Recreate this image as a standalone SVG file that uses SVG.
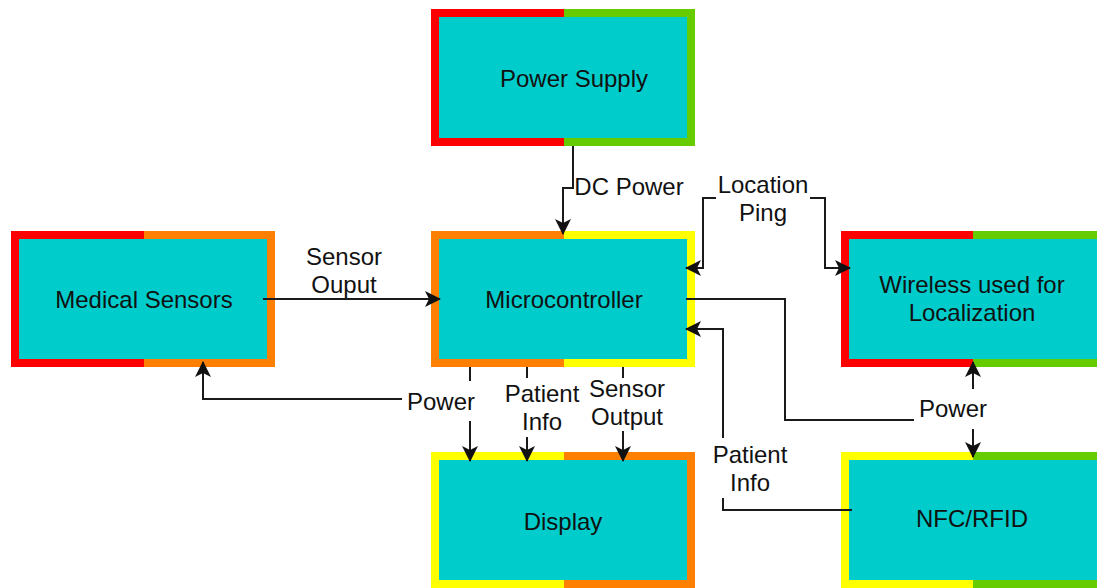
<svg xmlns="http://www.w3.org/2000/svg" width="1097" height="588" viewBox="0 0 1097 588">
<style>
.fill{fill:#00CCCC}
.t{font-family:"Liberation Sans",Arial,sans-serif;font-size:24px;fill:#111;text-anchor:middle}
.c{fill:none;stroke:#1a1a1a;stroke-width:2}
.bg{fill:#fff}
</style>
<defs>
<marker id="arr" viewBox="0 0 16 16" refX="15" refY="8" markerWidth="16" markerHeight="16" markerUnits="userSpaceOnUse" orient="auto-start-reverse">
<path d="M0,0 L16,8 L0,16 L4,8 z" fill="#111"/>
</marker>
</defs>
<rect width="1097" height="588" fill="#fff"/>
<g id="power-supply">
<rect x="431" y="9" width="133" height="137" fill="#FF0000"/>
<rect x="564" y="9" width="131" height="137" fill="#66CC00"/>
<rect class="fill" x="439" y="17" width="248" height="121"/>
<text class="t" x="574" y="87">Power Supply</text>
</g>
<g id="medical-sensors">
<rect x="11" y="231" width="133" height="136" fill="#FF0000"/>
<rect x="144" y="231" width="131" height="136" fill="#FF8000"/>
<rect class="fill" x="19" y="239" width="248" height="120"/>
<text class="t" x="144" y="308">Medical Sensors</text>
</g>
<g id="microcontroller">
<rect x="431" y="231" width="133" height="136" fill="#FF8000"/>
<rect x="564" y="231" width="131" height="136" fill="#FFFF00"/>
<rect class="fill" x="439" y="239" width="248" height="120"/>
<text class="t" x="564" y="308">Microcontroller</text>
</g>
<g id="wireless">
<rect x="841" y="231" width="132" height="136" fill="#FF0000"/>
<rect x="973" y="231" width="132" height="136" fill="#66CC00"/>
<rect class="fill" x="849" y="239" width="248" height="120"/>
<text class="t" x="972" y="293">Wireless used for</text>
<text class="t" x="972" y="321">Localization</text>
</g>
<g id="display">
<rect x="431" y="452" width="133" height="136" fill="#FFFF00"/>
<rect x="564" y="452" width="131" height="136" fill="#FF8000"/>
<rect class="fill" x="439" y="460" width="248" height="120"/>
<text class="t" x="563" y="530">Display</text>
</g>
<g id="nfc-rfid">
<rect x="841" y="452" width="132" height="136" fill="#FFFF00"/>
<rect x="973" y="452" width="132" height="136" fill="#66CC00"/>
<rect class="fill" x="849" y="460" width="248" height="120"/>
<text class="t" x="972" y="527">NFC/RFID</text>
</g>
<g id="connectors">
<path class="c" d="M573,146 V188 H563 V234" marker-end="url(#arr)"/>
<path class="c" d="M263,299 H440" marker-end="url(#arr)"/>
<path class="c" d="M470,367 V461" marker-end="url(#arr)"/>
<path class="c" d="M470,399 H203 V362" marker-end="url(#arr)"/>
<path class="c" d="M527,367 V461" marker-end="url(#arr)"/>
<path class="c" d="M623,367 V461" marker-end="url(#arr)"/>
<path class="c" d="M686,268 H703 V198 H825 V268 H850" marker-start="url(#arr)" marker-end="url(#arr)"/>
<path class="c" d="M686,299 H785 V420 H973 V457" marker-end="url(#arr)"/>
<path class="c" d="M973,420 V362" marker-end="url(#arr)"/>
<path class="c" d="M852,510 H723 V329 H686" marker-end="url(#arr)"/>
<g id="labels">
<text class="t" x="629" y="195">DC Power</text>
<text class="t" x="344" y="265">Sensor</text>
<text class="t" x="344" y="293">Ouput</text>
<rect class="bg" x="716" y="172" width="94" height="56"/>
<text class="t" x="763" y="193">Location</text>
<text class="t" x="763" y="221">Ping</text>
<rect class="bg" x="402" y="381" width="76" height="40"/>
<text class="t" x="441" y="410">Power</text>
<rect class="bg" x="502" y="378" width="80" height="59"/>
<text class="t" x="542" y="402">Patient</text>
<text class="t" x="542" y="430">Info</text>
<rect class="bg" x="587" y="378" width="80" height="53"/>
<text class="t" x="627" y="397">Sensor</text>
<text class="t" x="627" y="425">Output</text>
<rect class="bg" x="914" y="389" width="78" height="40"/>
<text class="t" x="953" y="417">Power</text>
<rect class="bg" x="710" y="438" width="80" height="60"/>
<text class="t" x="750" y="463">Patient</text>
<text class="t" x="750" y="491">Info</text>
</g>
</g>
</svg>
